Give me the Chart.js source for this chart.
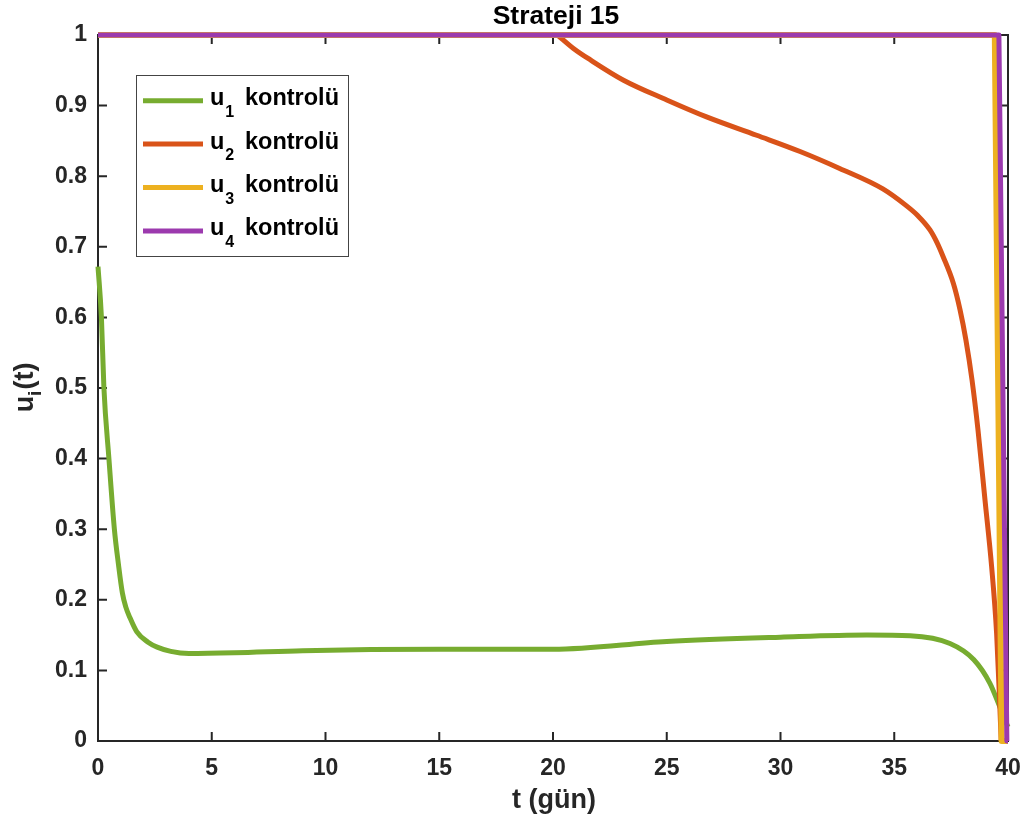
<!DOCTYPE html>
<html>
<head>
<meta charset="utf-8">
<script src="https://cdn.jsdelivr.net/npm/chart.js@4"></script>
<style>
  body { margin: 0; background: #fff; }
</style>
</head>
<body>
<canvas id="chart" width="1029" height="830"></canvas>
<script>
// values
const t1 = [0, 0.15, 0.26, 0.48, 0.72, 0.9, 1.07, 1.22, 1.4, 1.7, 2.2, 2.6, 3.2, 4.0, 6.0, 9.0, 15.0, 20.0, 25.0, 30.0, 33.8, 35.7, 37.45, 38.5, 39.2, 39.57, 39.8, 40];
const u1 = [0.672, 0.6, 0.5, 0.4, 0.3, 0.25, 0.21, 0.19, 0.175, 0.155, 0.14, 0.133, 0.127, 0.124, 0.125, 0.128, 0.13, 0.13, 0.141, 0.147, 0.150, 0.149, 0.138, 0.115, 0.082, 0.054, 0.035, 0.02];

const t2 = [20.2, 20.9, 21.63, 23.1, 25.0, 26.75, 28.95, 30.86, 32.6, 34.5, 35.5, 36.04, 36.57, 36.88, 37.15, 37.6, 37.89, 38.15, 38.42, 38.68, 38.99, 39.28, 39.5, 39.63, 39.7];
const u2 = [1, 0.981, 0.965, 0.936, 0.908, 0.884, 0.858, 0.835, 0.811, 0.782, 0.759, 0.744, 0.724, 0.706, 0.686, 0.648, 0.611, 0.568, 0.511, 0.441, 0.341, 0.247, 0.152, 0.058, 0];

const t3 = [0, 39.42, 39.72, 40];
const u3 = [1, 1, 0, 0];

const t4 = [0, 39.6, 39.95, 40];
const u4 = [1, 1, 0, 0];

const seriesNames = ['1', '2', '3', '4'];
const colors = ['#77AC30', '#D95319', '#EDB120', '#9C3AAE'];

const xTicks = [0, 5, 10, 15, 20, 25, 30, 35, 40];
const yTicks = [0, 0.1, 0.2, 0.3, 0.4, 0.5, 0.6, 0.7, 0.8, 0.9, 1];

const FONT = '"Liberation Sans", Arial, sans-serif';
const AXIS = '#262626';

const toXY = (ts, us) => ts.map((t, i) => ({ x: t, y: us[i] }));

const axesBox = {
    id: 'axesBox',
    beforeDatasetsDraw(chart) {
        const { ctx, chartArea: a, scales } = chart;
        ctx.save();
        ctx.strokeStyle = AXIS;
        ctx.lineWidth = 2;
        ctx.strokeRect(a.left, a.top, a.right - a.left, a.bottom - a.top);
        ctx.beginPath();
        const tl = 9;
        for (const v of xTicks) {
            const px = scales.x.getPixelForValue(v);
            ctx.moveTo(px, a.bottom); ctx.lineTo(px, a.bottom - tl);
            ctx.moveTo(px, a.top); ctx.lineTo(px, a.top + tl);
        }
        for (const v of yTicks) {
            const py = scales.y.getPixelForValue(v);
            ctx.moveTo(a.left, py); ctx.lineTo(a.left + tl, py);
            ctx.moveTo(a.right, py); ctx.lineTo(a.right - tl, py);
        }
        ctx.stroke();
        ctx.restore();
    },
    afterDraw(chart) {
        const { ctx, chartArea: a } = chart;
        const cx = (a.left + a.right) / 2;
        ctx.save();
        ctx.fillStyle = '#000';
        ctx.textAlign = 'center';
        ctx.textBaseline = 'alphabetic';
        ctx.font = 'bold 26.5px ' + FONT;
        ctx.fillText('Strateji 15', cx + 3, 24);

        ctx.fillStyle = AXIS;
        ctx.font = 'bold 27px ' + FONT;
        ctx.textBaseline = 'middle';
        ctx.fillText('t (gün)', cx + 1, 801);

        // y title with subscript
        ctx.translate(26, (a.top + a.bottom) / 2);
        ctx.rotate(-Math.PI / 2);
        ctx.textAlign = 'left';
        ctx.textBaseline = 'alphabetic';
        ctx.font = 'bold 27px ' + FONT;
        const wu = ctx.measureText('u').width;
        ctx.font = 'bold 19px ' + FONT;
        const wi = ctx.measureText('i').width;
        ctx.font = 'bold 27px ' + FONT;
        const wt = ctx.measureText('(t)').width;
        let x0 = -(wu + wi + wt) / 2;
        ctx.fillText('u', x0, 7);
        ctx.font = 'bold 19px ' + FONT;
        ctx.fillText('i', x0 + wu, 15);
        ctx.font = 'bold 27px ' + FONT;
        ctx.fillText('(t)', x0 + wu + wi + 1, 7);
        ctx.restore();

        // legend
        ctx.save();
        ctx.fillStyle = '#fff';
        ctx.fillRect(136, 75, 212, 181);
        ctx.strokeStyle = '#444';
        ctx.lineWidth = 1;
        ctx.strokeRect(136.5, 75.5, 212, 181);
        chart.data.datasets.forEach((ds, i) => {
            const y = 100.7 + i * 43.4;
            ctx.strokeStyle = ds.borderColor;
            ctx.lineWidth = 5;
            ctx.beginPath();
            ctx.moveTo(143, y); ctx.lineTo(203, y);
            ctx.stroke();
            ctx.fillStyle = '#000';
            ctx.textAlign = 'left';
            ctx.textBaseline = 'alphabetic';
            ctx.font = 'bold 23.5px ' + FONT;
            const wu = ctx.measureText('u').width;
            ctx.fillText('u', 210, y + 4.5);
            ctx.font = 'bold 16px ' + FONT;
            ctx.fillText(seriesNames[i], 211 + wu, y + 16);
            ctx.font = 'bold 23.5px ' + FONT;
            ctx.fillText('kontrolü', 245, y + 4.5);
        });
        ctx.restore();
    }
};

const mk = (ts, us, i, order, smooth, width) => ({
    data: toXY(ts, us),
    borderColor: colors[i],
    backgroundColor: colors[i],
    borderWidth: width,
    pointRadius: 0,
    fill: false,
    clip: false,
    order: order,
    cubicInterpolationMode: smooth ? 'monotone' : 'default',
    tension: 0,
    borderJoinStyle: 'round',
    borderCapStyle: 'butt',
});

const tickFont = { family: FONT, size: 23, weight: 'bold' };

new Chart(document.getElementById('chart'), {
    type: 'line',
    data: {
        datasets: [
            mk(t1, u1, 0, 4, true, 5),
            mk(t2, u2, 1, 3, true, 5),
            mk(t3, u3, 2, 2, false, 6),
            mk(t4, u4, 3, 1, false, 5),
        ]
    },
    options: {
        responsive: false,
        animation: false,
        layout: { padding: { top: 35, right: 21, left: 0, bottom: 0 } },
        plugins: { legend: { display: false }, tooltip: { enabled: false }, title: { display: false } },
        scales: {
            x: {
                type: 'linear', min: 0, max: 40,
                grid: { display: false, drawTicks: false },
                border: { display: false },
                afterFit: s => { s.height = 89; s.paddingLeft = 0; s.paddingRight = 0; },
                afterBuildTicks: s => { s.ticks = xTicks.map(v => ({ value: v })); },
                ticks: { color: AXIS, padding: 14, maxRotation: 0, font: tickFont }
            },
            y: {
                type: 'linear', min: 0, max: 1,
                grid: { display: false, drawTicks: false },
                border: { display: false },
                afterFit: s => { s.width = 98; s.paddingTop = 0; s.paddingBottom = 0; },
                afterBuildTicks: s => { s.ticks = yTicks.map(v => ({ value: v })); },
                ticks: {
                    color: AXIS, padding: 11, font: tickFont,
                    callback: v => String(Math.round(v * 10) / 10)
                }
            }
        }
    },
    plugins: [axesBox]
});
</script>
</body>
</html>
